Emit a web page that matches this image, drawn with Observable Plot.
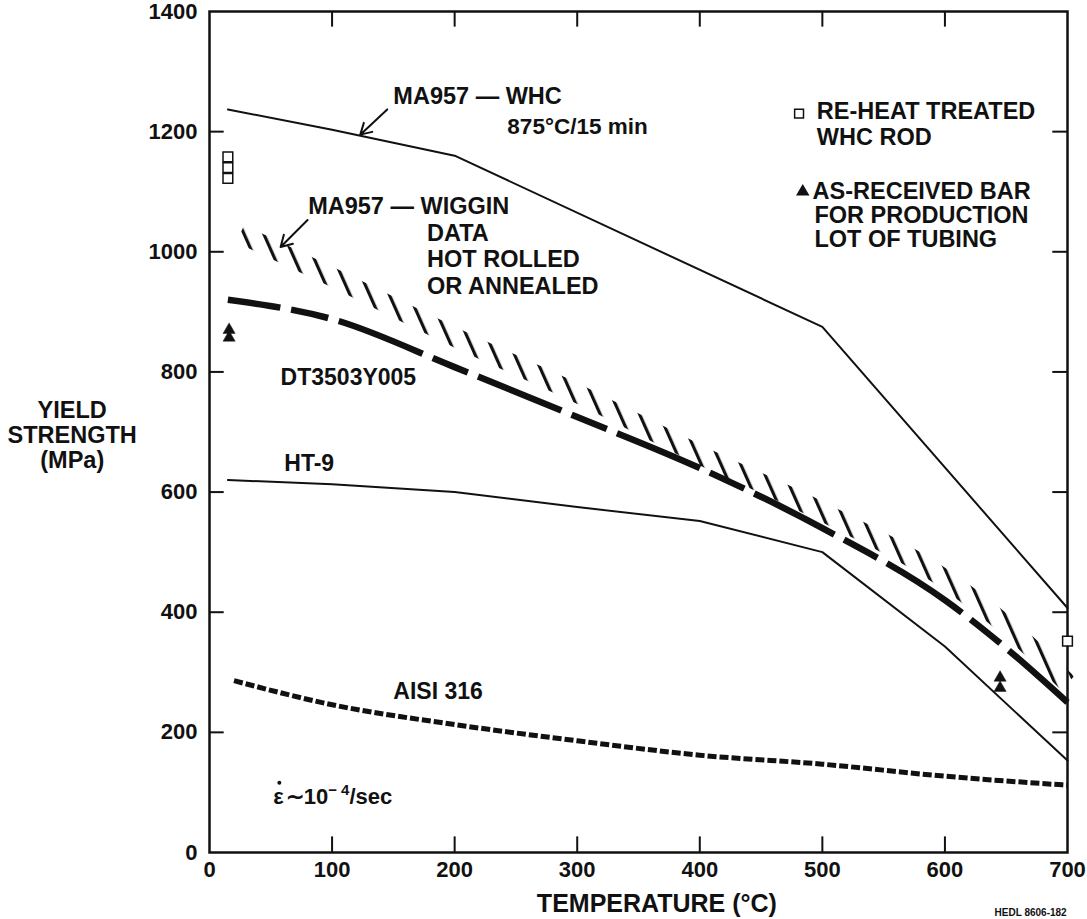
<!DOCTYPE html>
<html><head><meta charset="utf-8">
<script src="https://cdn.jsdelivr.net/npm/d3@7"></script>
<script src="https://cdn.jsdelivr.net/npm/@observablehq/plot@0.6"></script>
<style>body{margin:0;background:#fff} svg{display:block}</style>
</head><body><div id="chart"></div>
<script>
// ---- data ----
const whcTemp = [15, 100, 200, 500, 700];
const whcYield = [1237, 1203, 1160, 875, 407];
const wigginTemp = [25, 100, 200, 300, 400, 500, 600, 650, 700];
const wigginYield = [1030, 958, 858, 764, 662, 567, 455, 378, 282];
const dtTemp = [15, 100, 200, 300, 400, 500, 600, 650, 700];
const dtYield = [920, 888, 808, 725, 640, 540, 420, 340, 250];
const ht9Temp = [15, 100, 200, 300, 400, 500, 600, 700];
const ht9Yield = [620, 613, 600, 575, 552, 500, 343, 153];
const aisiTemp = [20, 100, 200, 300, 400, 500, 600, 700];
const aisiYield = [286, 246, 213, 186, 162, 147, 127, 112];
const reheatTemp = [15, 15, 15, 700];
const reheatYield = [1158, 1140, 1122, 352];
const asRecTemp = [16, 16, 645, 645];
const asRecYield = [870, 857, 291, 274];
const xTicks = [0, 100, 200, 300, 400, 500, 600, 700];
const yTicks = [0, 200, 400, 600, 800, 1000, 1200, 1400];
const innerXTicks = [100, 200, 300, 400, 500, 600];
const innerYTicks = [200, 400, 600, 800, 1000, 1200];

const zip = (xs, ys) => xs.map((x, i) => ({x, y: ys[i]}));
const whc = zip(whcTemp, whcYield);
const wiggin = zip(wigginTemp, wigginYield);
const dt = zip(dtTemp, dtYield);
const ht9 = zip(ht9Temp, ht9Yield);
const aisi = zip(aisiTemp, aisiYield);
const reheat = zip(reheatTemp, reheatYield);
const asRec = zip(asRecTemp, asRecYield);

const ink = "#111";
const labels = [
  {t: "MA957 \u2014 WHC", x: 150, y: 1258, s: 23.5},
  {t: "875\u00B0C/15 min", x: 243, y: 1208, s: 22.5},
  {t: "MA957 \u2014 WIGGIN", x: 80.5, y: 1075, s: 23.5},
  {t: "DATA", x: 177.5, y: 1031, s: 23.5},
  {t: "HOT ROLLED", x: 177.5, y: 987, s: 23.5},
  {t: "OR ANNEALED", x: 177.5, y: 943, s: 23.5},
  {t: "DT3503Y005", x: 58, y: 790, s: 23},
  {t: "HT-9", x: 61, y: 648, s: 23},
  {t: "AISI 316", x: 150, y: 267, s: 23},
  {t: "RE-HEAT TREATED", x: 495.5, y: 1233, s: 23.5},
  {t: "WHC ROD", x: 495.5, y: 1190, s: 23.5},
  {t: "AS-RECEIVED BAR", x: 492, y: 1100, s: 23.5},
  {t: "FOR PRODUCTION", x: 493.5, y: 1060, s: 23.5},
  {t: "LOT OF TUBING", x: 493.5, y: 1020, s: 23.5}
];

const plot = Plot.plot({
  width: 1087, height: 919,
  marginLeft: 209, marginRight: 20, marginTop: 11, marginBottom: 67,
  x: {domain: [0, 700]},
  y: {domain: [0, 1400]},
  style: {fontFamily: "'Liberation Sans', Arial, sans-serif", fontWeight: "bold", color: ink, background: "#fff"},
  marks: [
    Plot.frame({stroke: ink, strokeWidth: 2.5}),
    Plot.ruleX(innerXTicks, {x: d => d, y1: 0, y2: 26, stroke: ink, strokeWidth: 2}),
    Plot.ruleX(innerXTicks, {x: d => d, y1: 1400, y2: 1374, stroke: ink, strokeWidth: 2}),
    Plot.ruleY(innerYTicks, {y: d => d, x1: 0, x2: 12, stroke: ink, strokeWidth: 2}),
    Plot.ruleY(innerYTicks, {y: d => d, x1: 700, x2: 688, stroke: ink, strokeWidth: 2}),
    Plot.axisX(xTicks, {anchor: "bottom", tickSize: 0, tickPadding: 9, fontSize: 22, label: null, tickFormat: d => String(d)}),
    Plot.axisY(yTicks, {anchor: "left", tickSize: 0, tickPadding: 12, fontSize: 22, label: null, tickFormat: d => String(d)}),
    // curves
    Plot.line(whc, {x: "x", y: "y", stroke: ink, strokeWidth: 2}),
    Plot.line(wiggin, {x: "x", y: "y", stroke: "url(#hatch)", strokeWidth: 19, strokeLinecap: "butt", curve: "monotone-x"}),
    Plot.line(dt, {x: "x", y: "y", stroke: ink, strokeWidth: 6.5, strokeLinecap: "butt", strokeDasharray: "90,11,38,11", strokeDashoffset: 37, curve: "monotone-x"}),
    Plot.line(ht9, {x: "x", y: "y", stroke: ink, strokeWidth: 2}),
    Plot.line(aisi, {x: "x", y: "y", stroke: ink, strokeWidth: 5, strokeLinecap: "butt", strokeDasharray: "9,3", curve: "monotone-x"}),
    // data points
    Plot.dot(reheat, {x: "x", y: "y", symbol: "square", r: 5.5, fill: "#fff", stroke: ink, strokeWidth: 1.5}),
    Plot.dot(asRec, {x: "x", y: "y", symbol: "triangle", r: 4.5, fill: ink, stroke: ink, strokeWidth: 0.5}),
    // legend symbols
    Plot.dot([{x: 481, y: 1230}], {x: "x", y: "y", symbol: "square", r: 5, fill: "#fff", stroke: ink, strokeWidth: 1.5}),
    Plot.dot([{x: 484, y: 1100}], {x: "x", y: "y", symbol: "triangle", r: 5, fill: ink}),
    // arrows
    Plot.arrow([{x1: 145, y1: 1237, x2: 123, y2: 1195}, {x1: 80, y1: 1053, x2: 58, y2: 1008}],
      {x1: "x1", y1: "y1", x2: "x2", y2: "y2", stroke: ink, strokeWidth: 2, headLength: 11}),
    // annotations
    Plot.text(labels, {x: "x", y: "y", text: "t", fontSize: "s", textAnchor: "start", lineAnchor: "middle", fill: ink}),
    Plot.text([{x: 52, y: 92}], {x: "x", y: "y", text: () => "eps", textAnchor: "start", lineAnchor: "middle", fontSize: 22, fill: ink, className: "eps"}),
    // the rate dot over epsilon
    Plot.dot([{x: 57, y: 116}], {x: "x", y: "y", r: 2, fill: ink, stroke: "none"}),
    Plot.text([{x: 365, y: -85}], {x: "x", y: "y", text: () => "TEMPERATURE (\u00B0C)", fontSize: 25, fill: ink}),
    Plot.text([{x: -112, y: 695}], {x: "x", y: "y", text: () => "YIELD\nSTRENGTH\n(MPa)", fontSize: 23.5, lineHeight: 1.05, fill: ink}),
    Plot.text([{x: 640.5, y: -100}], {x: "x", y: "y", text: () => "HEDL 8606-182", textAnchor: "start", fontSize: 10, fill: ink})
  ]
});

d3.select(plot).insert("defs", ":first-child").html(
  `<pattern id="hatch" patternUnits="userSpaceOnUse" width="18" height="18" patternTransform="rotate(-24)">
     <rect x="0" y="0" width="3.2" height="18" fill="${ink}"/>
   </pattern>`);

d3.select(plot).selectAll("g.eps text").html(
  `<tspan>\u03B5</tspan><tspan dx="2">\u223C10</tspan><tspan dy="-9" font-size="15">\u2212 4</tspan><tspan dy="9">/sec</tspan>`);

document.getElementById("chart").appendChild(plot);
</script>
</body></html>
